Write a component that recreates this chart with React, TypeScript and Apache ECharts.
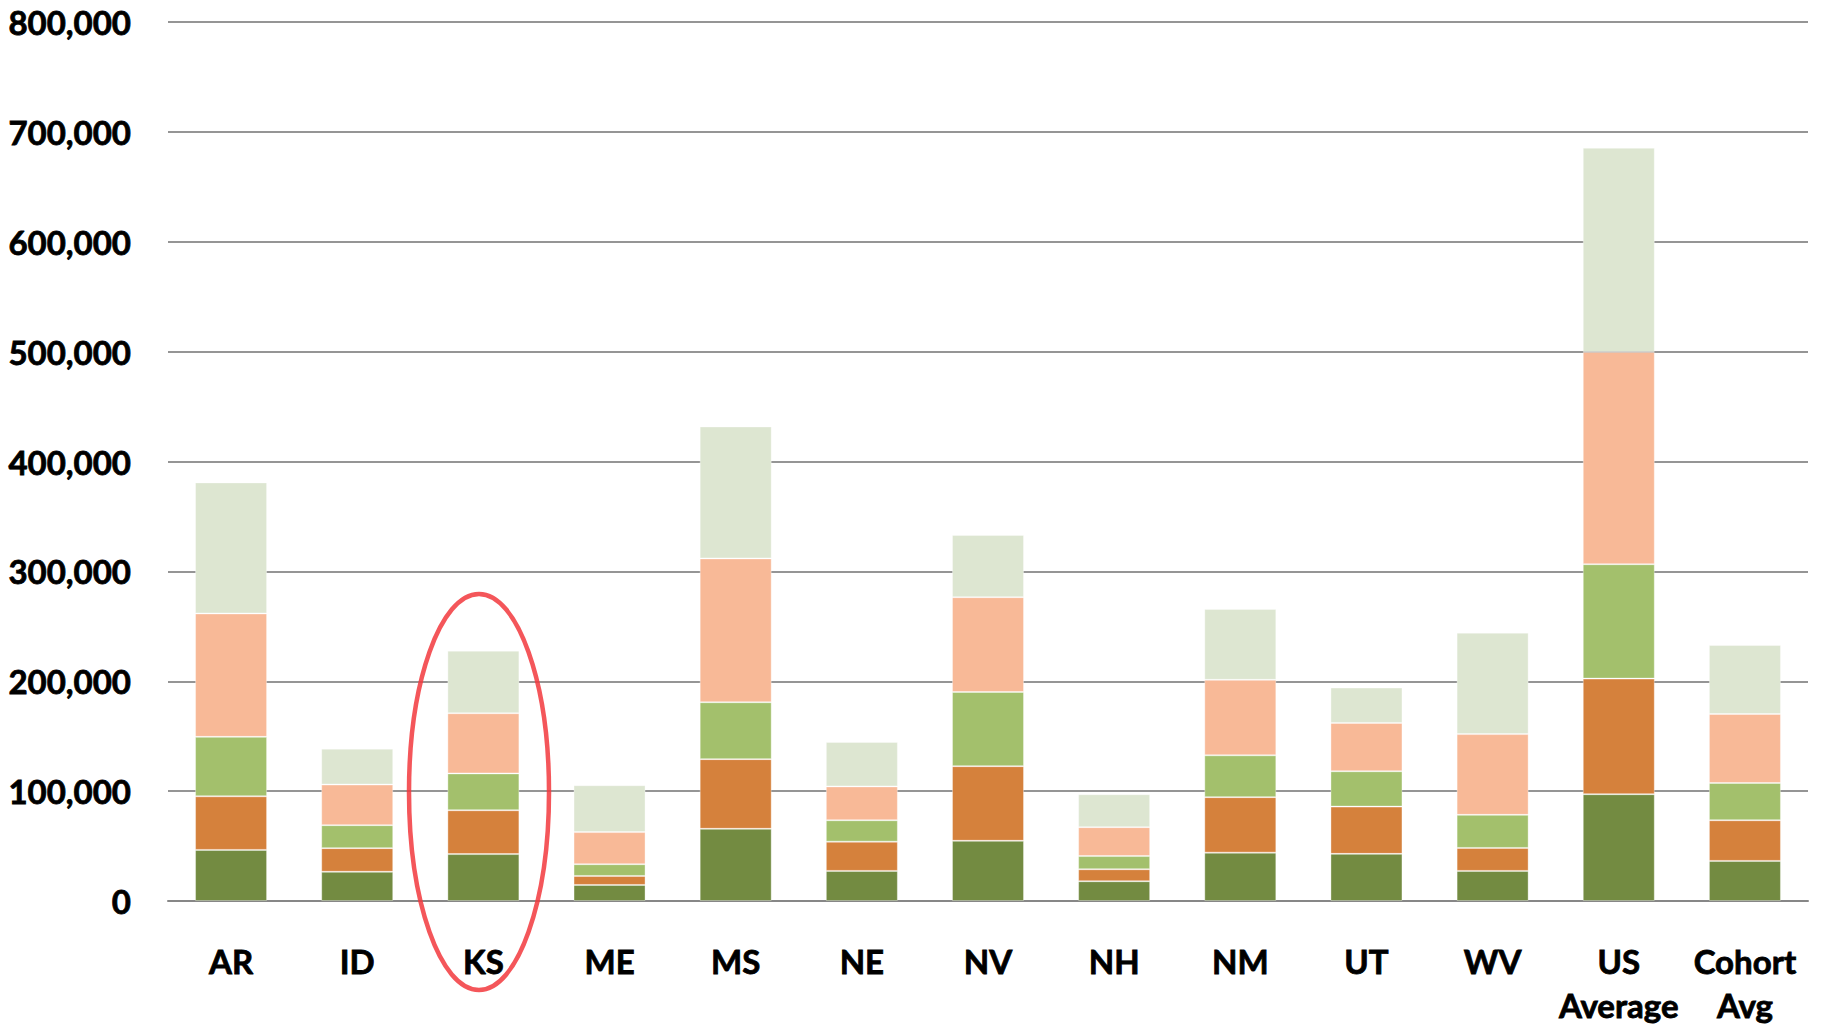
import React, { useEffect, useRef } from "react";
import * as echarts from "echarts";

const categories = ["AR", "ID", "KS", "ME", "MS", "NE", "NV", "NH", "NM", "UT", "WV", "US\nAverage", "Cohort\nAvg"];

// stacked segments, bottom to top (values in units)
const seriesA = [46500, 26600, 42700, 14600, 65700, 27400, 54800, 18000, 44000, 42900, 27400, 97200, 36500];
const seriesB = [48800, 21500, 39900, 8200, 63400, 26600, 67900, 10900, 50500, 43000, 20900, 105200, 37000];
const seriesC = [54100, 20900, 33500, 10700, 51800, 19500, 67500, 12000, 38100, 32200, 30100, 104100, 33900];
const seriesD = [112300, 37000, 54800, 29200, 130900, 30800, 86300, 26300, 68700, 44000, 73500, 193200, 62800];
const seriesE = [119300, 32600, 56900, 42700, 120100, 40500, 56700, 30000, 64400, 32200, 92300, 185800, 62800];

const yMin = 0;
const yMax = 800000;
const yInterval = 100000;

const colors = ["#738B41", "#D5813C", "#A3C06C", "#F8B997", "#DDE6D1"];
const seriesData = [seriesA, seriesB, seriesC, seriesD, seriesE];

export default function App() {
  const ref = useRef<HTMLDivElement>(null);
  useEffect(() => {
    if (!ref.current) return;
    const chart = echarts.init(ref.current, undefined, { renderer: "svg" });
    const font = "Lato, 'Open Sans', sans-serif";
    chart.setOption({
      animation: false,
      backgroundColor: "#ffffff",
      grid: { left: 168, right: 13, top: 22, bottom: 125, containLabel: false },
      xAxis: {
        type: "category",
        data: categories,
        axisLine: { show: true, lineStyle: { color: "#878787", width: 2 } },
        axisTick: { show: false },
        axisLabel: {
          color: "#000",
          fontFamily: font,
          fontWeight: "bold",
          fontSize: 33,
          lineHeight: 44,
          margin: 38,
          interval: 0,
          textBorderColor: "#000",
          textBorderWidth: 0.8,
        },
      },
      yAxis: {
        type: "value",
        min: yMin,
        max: yMax,
        interval: yInterval,
        axisLine: { show: false },
        axisTick: { show: false },
        splitLine: { lineStyle: { color: "#959595", width: 2 } },
        axisLabel: {
          color: "#000",
          fontFamily: font,
          fontWeight: "bold",
          fontSize: 33,
          margin: 37,
          textBorderColor: "#000",
          textBorderWidth: 0.8,
          formatter: (v: number) => v.toLocaleString("en-US"),
        },
      },
      series: seriesData.map((d, i) => ({
        type: "bar",
        stack: "total",
        data: d,
        barWidth: 72,
        itemStyle: { color: colors[i], borderColor: "rgba(255,255,255,0.35)", borderWidth: 1 },
      })),
      graphic: [
        {
          type: "ellipse",
          shape: { cx: 479, cy: 792, rx: 70, ry: 198 },
          style: { fill: "none", stroke: "#F2383D", lineWidth: 4.5, opacity: 0.85 },
          z: 100,
        },
      ],
    });
    return () => chart.dispose();
  }, []);
  return (
    <div
      ref={ref}
      style={{ position: "fixed", left: 0, top: 0, width: 1821, height: 1027 }}
    />
  );
}
